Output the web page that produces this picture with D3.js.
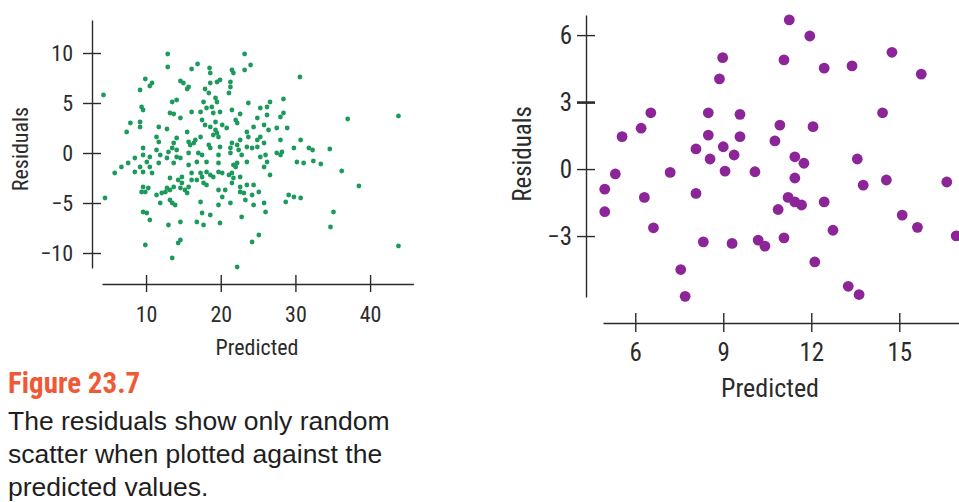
<!DOCTYPE html>
<html>
<head>
<meta charset="utf-8">
<script src="https://cdn.jsdelivr.net/npm/d3@7"></script>
<style>
  body { margin: 0; background: #fff; }
  svg { display: block; font-family: "Liberation Sans Narrow", "Roboto Condensed", "Liberation Sans", Arial, sans-serif; }
  .tick text { fill: #2b2b2b; }
  .domain, .tick line { stroke: #2b2b2b; stroke-width: 1.4; }
  .body { font-family: "Liberation Sans", Arial, sans-serif; }
</style>
</head>
<body>
<div id="svgContainer"></div>
<script>
// left panel data (predicted, residual)
const leftPredicted = [
  12.9, 23.2, 12.9, 16.9, 16.1, 18.5, 18.6, 21.5, 21.7, 23.2, 24.0, 30.6,
  9.9, 10.8, 10.5, 9.2, 14.6, 15.0, 15.7, 15.5, 18.6, 19.5, 19.9, 21.3, 21.3, 17.9, 18.4, 21.1,
  4.3, 9.4, 9.6, 13.5, 14.1, 17.7, 19.3, 19.5, 23.7, 25.3, 26.2, 26.6, 28.4,
  13.2, 13.7, 14.6, 16.1, 17.3, 18.1, 18.8, 19.0, 19.9, 21.5, 22.6, 22.0, 22.2, 24.9, 26.2, 28.0, 28.4,
  7.9, 9.2, 7.4, 9.2, 11.7, 12.8, 15.5, 17.5, 17.9, 18.6, 19.3, 19.3, 20.2, 20.8, 23.5, 24.4, 25.8, 26.4, 27.5, 28.9,
  11.4, 11.7, 14.1, 17.3, 19.0, 19.5, 19.7, 23.7, 24.9, 25.3, 22.6, 21.5, 21.3, 22.2, 25.8, 28.0, 30.7,
  9.6, 11.4, 13.7, 13.5, 14.1, 15.7, 15.9, 16.6, 16.4, 18.4, 18.6, 19.9, 22.4, 23.5, 24.2, 24.9, 29.8, 31.8, 28.2, 28.0, 27.5,
  8.5, 9.6, 10.5, 11.9, 13.0, 12.8, 14.1, 14.6, 15.7, 17.0, 17.5, 19.7, 21.3, 22.8, 25.3, 26.0, 26.2, 30.2, 31.1,
  5.8, 6.7, 7.6, 8.5, 9.2, 10.5, 10.1, 11.7, 13.7, 15.7, 16.8, 18.1, 19.7, 21.7, 22.2, 22.0, 23.5, 25.8, 26.6,
  9.6, 10.8, 13.2, 14.8, 16.1, 17.3, 18.1, 18.6, 19.0, 19.7, 20.2, 21.1, 21.5, 21.7, 22.6,
  9.6, 9.9, 10.3, 11.4, 12.1, 12.6, 12.8, 13.2, 13.7, 14.3, 14.8, 14.6, 15.2, 15.7, 16.1, 16.8, 17.5, 17.7, 18.1,
  19.7, 20.6, 21.5, 22.6, 23.5, 24.4, 22.6, 23.1, 24.2, 25.1,
  9.4, 13.2, 13.5, 13.9, 11.9, 15.5, 17.3, 20.2, 19.7, 21.3, 23.3, 24.4, 25.8, 29.1, 29.8, 30.7, 28.7,
  9.6, 10.1, 10.5, 13.0, 14.6, 16.8, 17.5, 17.7, 18.6, 19.9, 22.8, 26.0,
  9.9, 14.3, 14.6, 24.2, 25.1, 13.5, 22.2,
  4.5, 37.0, 43.8, 34.6, 36.2, 33.4, 32.4, 32.3, 38.5, 35.1, 34.7, 43.8
];
const leftResiduals = [
  9.9, 9.9, 8.6, 8.9, 8.4, 8.5, 8.0, 8.3, 8.0, 8.3, 8.8, 7.6,
  7.4, 7.0, 6.7, 6.3, 7.2, 7.0, 6.6, 6.4, 7.0, 7.1, 7.3, 7.1, 6.6, 6.4, 6.0, 6.0,
  5.8, 4.6, 4.3, 5.1, 5.3, 5.1, 5.5, 5.1, 5.0, 4.5, 4.6, 5.1, 5.4,
  4.0, 3.9, 3.5, 4.1, 4.1, 4.5, 4.6, 4.0, 4.1, 4.3, 3.9, 3.3, 3.0, 3.5, 3.8, 3.6, 4.0,
  3.0, 3.1, 2.1, 2.6, 2.6, 2.4, 2.1, 3.3, 2.8, 2.6, 3.1, 2.3, 2.8, 2.5, 2.1, 2.6, 2.8, 2.3, 2.5, 2.5,
  1.6, 1.1, 1.5, 1.6, 1.8, 2.0, 1.6, 1.6, 1.3, 1.6, 1.3, 1.0, 0.5, 0.8, 1.0, 1.3, 1.3,
  0.5, 0.3, 1.0, 0.5, 0.3, 1.1, 0.8, 1.3, 1.0, 0.8, 0.5, 0.6, 0.3, 0.6, 0.5, 0.6, 0.5, 0.5, 0.1, -0.2, 0.0,
  -0.5, -0.2, -0.4, -0.2, 0.1, -0.5, -0.4, -0.5, 0.0, 0.0, -0.2, -0.2, 0.0, -0.2, -0.4, -0.2, -0.9, -0.9, -1.0,
  -2.0, -1.4, -1.0, -1.9, -1.4, -1.4, -0.9, -1.0, -1.0, -1.2, -0.9, -0.9, -1.0, -1.2, -1.0, -1.4, -0.9, -1.4, -2.2,
  -1.9, -2.0, -2.5, -2.4, -2.0, -2.0, -1.9, -2.2, -2.4, -1.9, -2.0, -2.2, -2.0, -2.5, -2.4,
  -3.4, -3.9, -3.5, -4.2, -4.0, -3.9, -3.5, -3.7, -3.4, -2.7, -3.0, -3.5, -3.7, -3.4, -2.7, -2.7, -2.4, -3.0, -3.2,
  -3.7, -3.7, -3.0, -3.4, -3.2, -3.2, -3.9, -4.0, -4.2, -3.9,
  -3.9, -4.7, -5.0, -5.2, -5.0, -4.0, -4.9, -4.4, -5.2, -5.0, -4.7, -5.2, -5.0, -4.2, -4.4, -4.5, -4.9,
  -5.9, -6.0, -6.7, -7.2, -6.9, -6.9, -6.0, -7.2, -6.2, -7.0, -6.4, -5.9,
  -9.2, -9.0, -8.7, -8.9, -8.2, -10.5, -11.4,
  -4.5, 3.4, 3.7, 0.4, -1.8, -1.1, -0.8, 0.3, -3.3, -5.9, -7.4, -9.3
];

// right panel data (predicted, residual)
const rightPredicted = [
  5.55, 6.2, 6.53, 5.32, 7.19, 8.49, 8.49, 8.07, 8.55, 9.0, 8.98, 8.87, 9.06,
  11.25, 11.95, 11.07, 12.44, 13.39, 14.75, 15.75, 9.57, 10.93, 12.06, 14.43,
  9.57, 10.76, 9.37, 11.44, 11.75, 13.57, 10.08, 11.44, 14.56, 16.62,
  4.96, 4.96, 6.31, 6.62, 8.07, 8.32, 7.55, 7.7, 9.3, 11.21, 11.44, 11.67, 10.87,
  12.44, 13.77, 15.1, 15.62, 16.94, 10.19, 10.42, 11.07, 12.74, 12.12, 13.26, 13.63
];
const rightResiduals = [
  1.45, 1.83, 2.52, -0.22, -0.15, 2.52, 1.52, 0.9, 0.45, 1.0, 4.99, 4.04, -0.09,
  6.68, 5.96, 4.89, 4.52, 4.62, 5.23, 4.25, 2.45, 1.97, 1.9, 2.52,
  1.45, 1.26, 0.63, 0.55, 0.26, 0.45, -0.12, -0.4, -0.49, -0.58,
  -0.9, -1.91, -1.27, -2.63, -1.09, -3.26, -4.5, -5.7, -3.33, -1.27, -1.47, -1.61, -1.81,
  -1.47, -0.72, -2.06, -2.61, -2.99, -3.18, -3.45, -3.08, -2.74, -4.16, -5.25, -5.62
];

// tick labels
const leftXTicks = [10, 20, 30, 40],
  leftYTicks = [-10, -5, 0, 5, 10],
  rightXTicks = [6, 9, 12, 15],
  rightYTicks = [-3, 0, 3, 6];

// caption text
const captionTitle = "Figure 23.7",
  captionLines = ["The residuals show only random", "scatter when plotted against the", "predicted values."];

const svg = d3.select("#svgContainer")
  .append("svg")
  .attr("width", 959)
  .attr("height", 502);

// scales, domains cover the drawn axis lines
const lx = d3.scaleLinear().domain([4.1, 45.8]).range([102, 413.4]),
  ly = d3.scaleLinear().domain([-11.5, 13.3]).range([268, 20]),
  rx = d3.scaleLinear().domain([4.9, 17.2]).range([603, 963.8]),
  ry = d3.scaleLinear().domain([-5.73, 6.9]).range([297, 15]);

// axis helpers: ticks cross the axis line
const drawY = (scale, ticks, x, size, pad, fs) => {
  const g = svg.append("g")
    .attr("transform", `translate(${x},0)`)
    .call(d3.axisLeft(scale).tickValues(ticks).tickSize(size).tickSizeOuter(0).tickPadding(pad));
  g.attr("font-family", null);
  g.selectAll(".tick line").attr("x1", size);
  g.selectAll(".tick text").style("font-size", fs + "px");
  return g;
};
const drawX = (scale, ticks, y, up, down, pad, fs) => {
  const g = svg.append("g")
    .attr("transform", `translate(0,${y})`)
    .call(d3.axisBottom(scale).tickValues(ticks).tickSize(down).tickSizeOuter(0).tickPadding(pad));
  g.attr("font-family", null);
  g.selectAll(".tick line").attr("y1", -up);
  g.selectAll(".tick text").style("font-size", fs + "px");
  return g;
};

// left panel
drawY(ly, leftYTicks, 92, 9, 10, 22);
drawX(lx, leftXTicks, 284, 9, 8, 14, 22);

svg.append("g")
  .selectAll("circle")
  .data(leftPredicted.map((d, i) => [d, leftResiduals[i]]))
  .enter()
  .append("circle")
  .attr("cx", d => lx(d[0]))
  .attr("cy", d => ly(d[1]))
  .attr("r", 2.4)
  .attr("fill", "#1b9a5c");

svg.append("text")
  .attr("x", 257)
  .attr("y", 355)
  .attr("text-anchor", "middle")
  .style("font-size", "22px")
  .attr("fill", "#2b2b2b")
  .text("Predicted");

svg.append("text")
  .attr("transform", "translate(28,149) rotate(-90)")
  .attr("text-anchor", "middle")
  .style("font-size", "22px")
  .attr("fill", "#2b2b2b")
  .text("Residuals");

// right panel
const ryAxis = drawY(ry, rightYTicks, 586, 9, 5, 25);
ryAxis.selectAll(".tick line").filter(d => d === 3).style("stroke-width", 2.6);
drawX(rx, rightXTicks, 323, 10, 9, 11, 25);

svg.append("g")
  .selectAll("circle")
  .data(rightPredicted.map((d, i) => [d, rightResiduals[i]]))
  .enter()
  .append("circle")
  .attr("cx", d => rx(d[0]))
  .attr("cy", d => ry(d[1]))
  .attr("r", 5.4)
  .attr("fill", "#8c2597");

svg.append("text")
  .attr("x", 770)
  .attr("y", 397)
  .attr("text-anchor", "middle")
  .style("font-size", "26px")
  .attr("fill", "#2b2b2b")
  .text("Predicted");

svg.append("text")
  .attr("transform", "translate(531,154) rotate(-90)")
  .attr("text-anchor", "middle")
  .style("font-size", "25px")
  .attr("fill", "#2b2b2b")
  .text("Residuals");

// caption
svg.append("text")
  .attr("x", 8)
  .attr("y", 393)
  .style("font-size", "29px")
  .style("font-weight", "bold")
  .attr("fill", "#ef5a36")
  .text(captionTitle);

svg.append("g")
  .selectAll("text")
  .data(captionLines)
  .enter()
  .append("text")
  .attr("class", "body")
  .attr("x", 8)
  .attr("y", (d, i) => 430 + i * 33)
  .style("font-size", "26.5px")
  .attr("fill", "#1e1e1e")
  .text(d => d);
</script>
</body>
</html>
